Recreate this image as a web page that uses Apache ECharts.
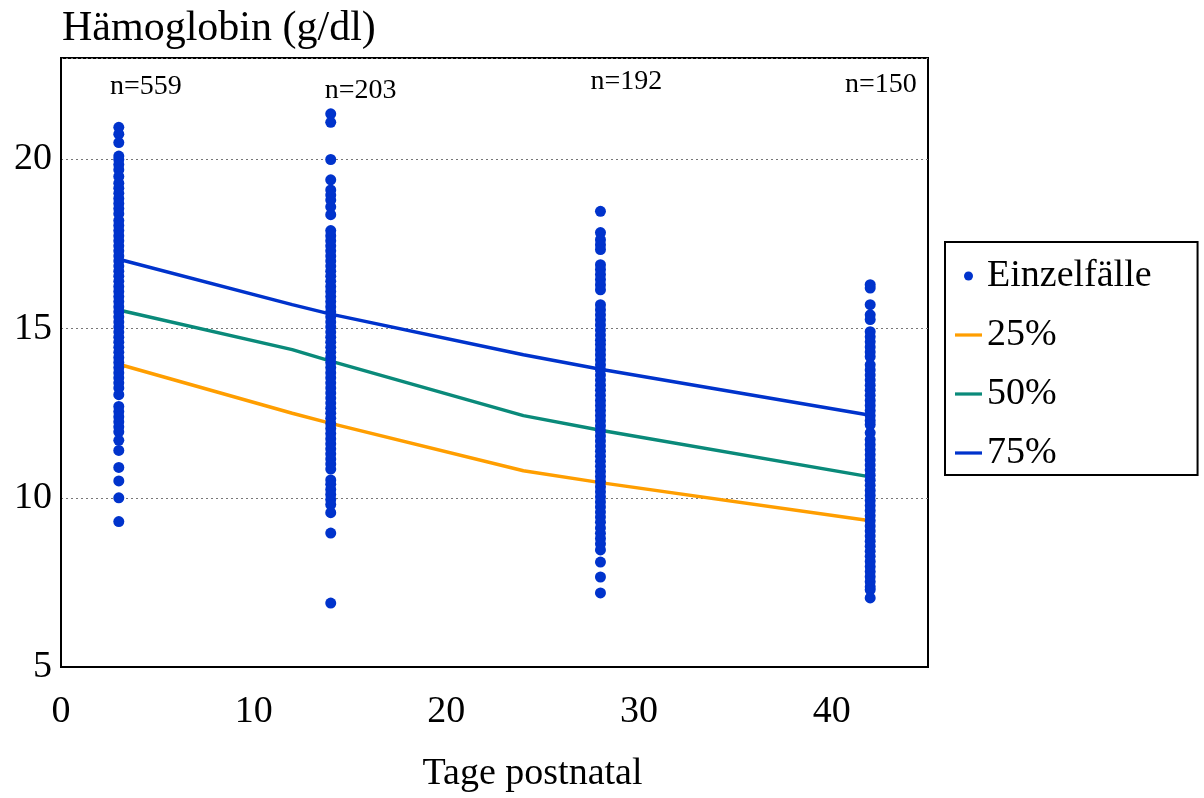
<!DOCTYPE html>
<html>
<head>
<meta charset="utf-8">
<script src="https://cdn.jsdelivr.net/npm/echarts@6/dist/echarts.min.js"></script>
<style>html,body{margin:0;padding:0;background:#fff}#c{width:1204px;height:798px}</style>
</head>
<body>
<div id="c"></div>
<script>
// ---- data ----
var days = [3, 14, 28, 42];
var day3Values = [20.95, 20.75, 20.5, 20.1, 20.0, 19.85, 19.7, 19.5, 19.3, 19.15, 19.0, 18.85, 18.7, 18.55, 18.4,
  18.2, 18.05, 17.9, 17.75, 17.6, 17.45, 17.3, 17.15, 17.0, 16.85, 16.7, 16.55, 16.4, 16.25, 16.1, 15.95, 15.8, 15.65, 15.5, 15.35, 15.2, 15.05, 14.9, 14.75,
  14.6, 14.45, 14.3, 14.15, 14.0, 13.85, 13.7, 13.55, 13.4, 13.25,
  13.05, 12.7, 12.55, 12.4, 12.25, 12.1, 11.95, 11.7, 11.4, 10.9, 10.5, 10.0, 9.3];
var day14Values = [21.35, 21.1, 20.0, 19.4, 19.1, 18.95, 18.8, 18.6, 18.37, 17.9, 17.75, 17.6, 17.45, 17.3, 17.15, 17.0, 16.85, 16.7, 16.55,
  16.4, 16.25, 16.1, 15.95, 15.8, 15.65, 15.5, 15.35, 15.2, 15.05, 14.9, 14.75, 14.6, 14.45, 14.3, 14.15, 14.0, 13.85, 13.7, 13.55, 13.4, 13.25,
  13.1, 12.95, 12.8, 12.65, 12.5, 12.35, 12.2, 12.05, 11.9, 11.75, 11.6, 11.45, 11.3, 11.15, 11.0, 10.85,
  10.53, 10.4, 10.25, 10.1, 9.95, 9.8, 9.56, 8.96, 6.89];
var day28Values = [18.47, 17.84, 17.63, 17.48, 17.34, 16.89, 16.75, 16.6, 16.45, 16.3, 16.15, 15.71, 15.56, 15.41, 15.26, 15.11, 14.96, 14.81, 14.66, 14.53,
  14.38, 14.23, 14.08, 13.93, 13.78, 13.63, 13.48, 13.33, 13.18, 13.03, 12.88, 12.73, 12.58, 12.43, 12.28, 12.13, 11.98, 11.83, 11.68, 11.53,
  11.38, 11.23, 11.08, 10.93, 10.78, 10.63, 10.48, 10.33, 10.18, 10.03, 9.88, 9.73, 9.58, 9.43, 9.28,
  9.11, 8.95, 8.8, 8.64, 8.46, 8.1, 7.66, 7.19];
var day42Values = [16.3, 16.2, 15.71, 15.41, 15.27, 14.91, 14.76, 14.61, 14.46, 14.31, 14.17, 13.93, 13.78, 13.63, 13.48, 13.33, 13.18, 13.03, 12.88,
  12.73, 12.58, 12.43, 12.28, 12.16, 11.92,
  11.72, 11.57, 11.42, 11.27, 11.12, 10.97, 10.82, 10.67, 10.52, 10.37, 10.22, 10.07, 9.92, 9.77, 9.62, 9.47, 9.32, 9.17, 9.02,
  8.87, 8.72, 8.57, 8.42, 8.27, 8.12, 7.97, 7.82, 7.67, 7.52, 7.37, 7.28, 7.04];

var percentileDays = [3, 12, 14, 24, 28, 42];
var p25 = [13.95, 12.5, 12.2, 10.8, 10.45, 9.32];
var p50 = [15.55, 14.38, 14.04, 12.43, 12.0, 10.62];
var p75 = [17.05, 15.71, 15.43, 14.23, 13.8, 12.44];

var nLabels = ['n=559', 'n=203', 'n=192', 'n=150'];
var nLabelX = [4.4, 15.55, 29.35, 42.55];
var nLabelY = [22.15, 22.04, 22.3, 22.22];

var xTicks = [0, 10, 20, 30, 40];
var yTicks = [5, 10, 15, 20];

// ---- build ----
var columns = [day3Values, day14Values, day28Values, day42Values];
var scatterData = [];
columns.forEach(function (vals, i) {
  vals.forEach(function (v) { scatterData.push([days[i], v]); });
});
function pairs(xs, ys) { return xs.map(function (x, i) { return [x, ys[i]]; }); }

var FONT = 'Liberation Serif';
var LINE_ICON = 'path://M0,0 L30,0 L30,3.6 L0,3.6 Z';
var chart = echarts.init(document.getElementById('c'), null, { renderer: 'canvas' });
chart.setOption({
  animation: false,
  backgroundColor: '#ffffff',
  textStyle: { fontFamily: FONT, color: '#000' },
  title: {
    text: 'Hämoglobin (g/dl)',
    left: 57, top: 3,
    textStyle: { fontFamily: FONT, fontSize: 42, fontWeight: 'normal', color: '#000' }
  },
  grid: {
    left: 61, right: 276, top: 58, bottom: 131,
    show: true, borderColor: '#000', borderWidth: 2, containLabel: false
  },
  legend: {
    orient: 'vertical',
    left: 945, top: 242,
    padding: [14, 46, 2, 10],
    itemGap: 19,
    itemWidth: 27, itemHeight: 9,
    borderColor: '#000', borderWidth: 2,
    data: [
      { name: 'Einzelfälle', icon: 'circle' },
      { name: '25%', icon: LINE_ICON }, { name: '50%', icon: LINE_ICON }, { name: '75%', icon: LINE_ICON }
    ],
    textStyle: { fontFamily: FONT, fontSize: 38, lineHeight: 40, color: '#000' }
  },
  xAxis: {
    type: 'value', min: 0, max: 45, interval: 10,
    name: 'Tage postnatal', nameLocation: 'middle', nameGap: 88,
    nameTextStyle: { fontFamily: FONT, fontSize: 38, color: '#000', padding: [0, 0, 0, 76] },
    axisLine: { show: true, lineStyle: { color: '#000', width: 2 } },
    axisTick: { show: false },
    splitLine: { show: false },
    axisLabel: {
      fontFamily: FONT, fontSize: 38, color: '#000', margin: 26,
      showMaxLabel: false,
      formatter: function (v) { return xTicks.indexOf(v) >= 0 ? String(v) : ''; }
    }
  },
  yAxis: {
    type: 'value', min: 5, max: 23, interval: 5,
    axisLine: { show: true, lineStyle: { color: '#000', width: 2 } },
    axisTick: { show: false },
    splitLine: { show: true, lineStyle: { color: '#777', width: 1, type: [2, 3] } },
    axisLabel: {
      fontFamily: FONT, fontSize: 38, color: '#000', margin: 9,
      showMaxLabel: false,
      formatter: function (v) { return yTicks.indexOf(v) >= 0 ? String(v) : ''; }
    }
  },
  series: [
    {
      name: 'Einzelfälle', type: 'scatter', z: 5,
      symbol: 'circle', symbolSize: 11,
      itemStyle: { color: '#0033cc', opacity: 1 },
      data: scatterData
    },
    {
      name: '25%', type: 'line', z: 3, symbol: 'none',
      lineStyle: { color: '#ff9e00', width: 3.5 }, itemStyle: { color: '#ff9e00' },
      data: pairs(percentileDays, p25)
    },
    {
      name: '50%', type: 'line', z: 3, symbol: 'none',
      lineStyle: { color: '#0a8a7a', width: 3.5 }, itemStyle: { color: '#0a8a7a' },
      data: pairs(percentileDays, p50)
    },
    {
      name: '75%', type: 'line', z: 3, symbol: 'none',
      lineStyle: { color: '#0033cc', width: 3.5 }, itemStyle: { color: '#0033cc' },
      data: pairs(percentileDays, p75)
    },
    {
      name: 'nLabels', type: 'scatter', symbolSize: 0, silent: true, z: 6,
      itemStyle: { opacity: 1 },
      data: nLabelX.map(function (x, i) { return { value: [x, nLabelY[i]], name: nLabels[i] }; }),
      label: {
        show: true, position: 'inside', formatter: function (p) { return p.name; },
        fontFamily: FONT, fontSize: 28, color: '#000', letterSpacing: -1
      }
    }
  ]
});
</script>
</body>
</html>
